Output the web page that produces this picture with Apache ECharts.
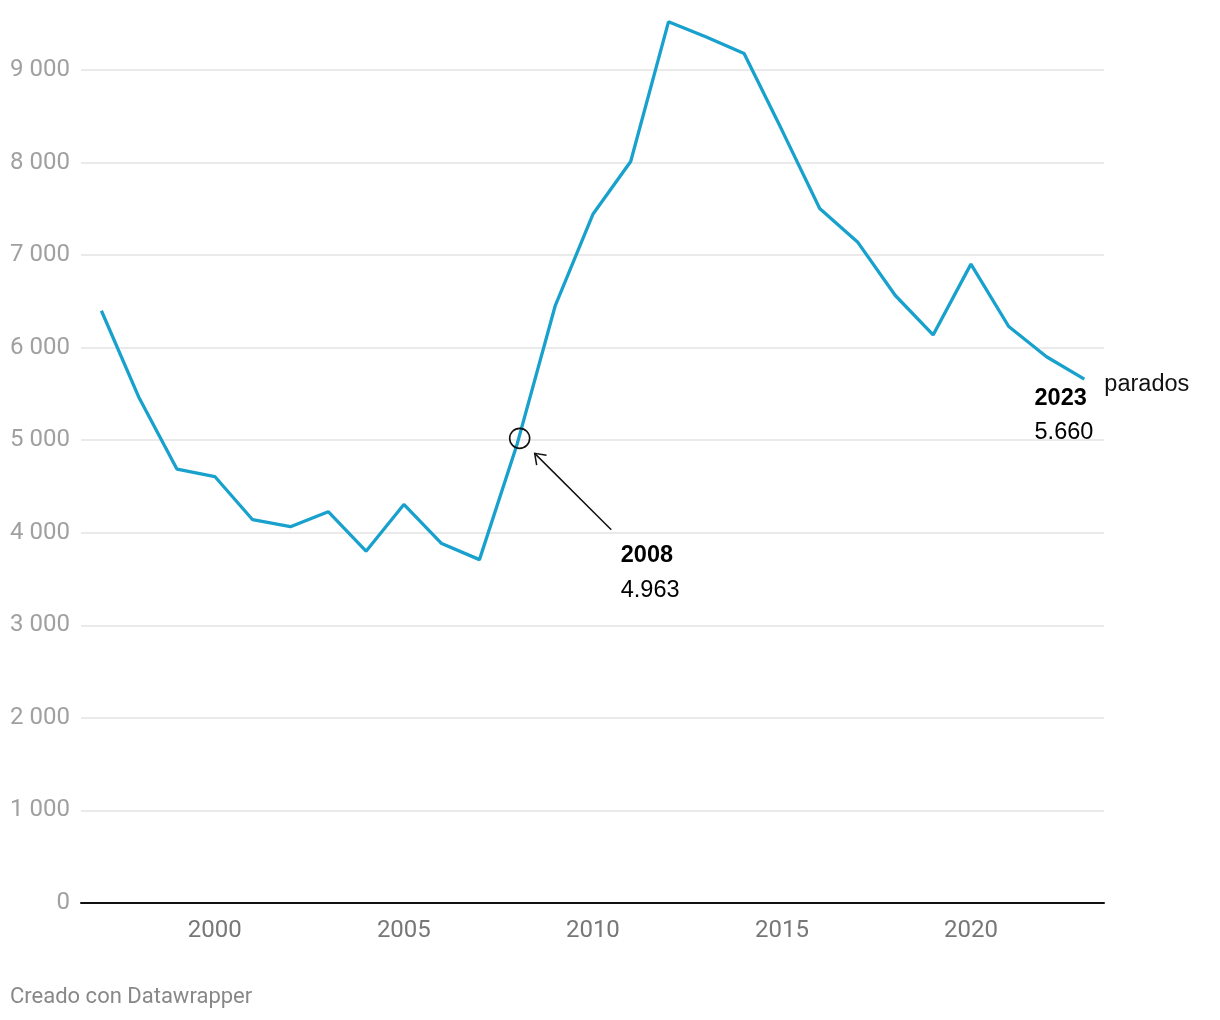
<!DOCTYPE html>
<html>
<head>
<meta charset="utf-8">
<script src="https://cdn.jsdelivr.net/npm/echarts@6/dist/echarts.min.js"></script>
<style>
html,body{margin:0;padding:0;background:#fff;}
#chart{width:1220px;height:1020px;}
</style>
</head>
<body>
<div id="chart"></div>
<script>
const years = [1997,1998,1999,2000,2001,2002,2003,2004,2005,2006,2007,2008,2009,2010,2011,2012,2013,2014,2015,2016,2017,2018,2019,2020,2021,2022,2023];
const parados = [6399,5456,4687,4608,4141,4066,4228,3801,4306,3884,3710,4963,6448,7441,8012,9521,9356,9178,8351,7503,7143,6564,6138,6903,6229,5902,5660];
const xTicks = [2000,2005,2010,2015,2020];
const seriesName = 'parados';
const highlightYear = 2008;
const highlightLabel = '4.963';
const lastYear = 2023;
const lastLabel = '5.660';
const footer = 'Creado con Datawrapper';

const chart = echarts.init(document.getElementById('chart'), null, {renderer:'canvas'});
const fmtThousands = v => String(v).replace(/\B(?=(\d{3})+(?!\d))/g, ' ');

chart.setOption({
  animation:false,
  backgroundColor:'#fff',
  grid:{left:81, right:116, top:14.5, bottom:117, containLabel:false},
  xAxis:{
    type:'value', min:1996.46, max:2023.52,
    axisLine:{show:true, onZero:false, lineStyle:{color:'#111', width:2}},
    axisTick:{show:false},
    splitLine:{show:false},
    axisLabel:{customValues:xTicks, formatter:v=>String(v), color:'#777', fontFamily:'Roboto', fontSize:24, margin:16}
  },
  yAxis:{
    type:'value', min:0, max:9600, interval:1000,
    axisLine:{show:false}, axisTick:{show:false},
    splitLine:{show:true, showMaxLine:false, showMinLine:false, lineStyle:{color:'#e3e3e3', width:1.5}},
    axisLabel:{showMaxLabel:false, formatter:fmtThousands, color:'#a0a0a0', fontFamily:'Roboto', fontSize:24, margin:11}
  },
  series:[{
    type:'line', name:seriesName,
    data: years.map((y,i)=>[y, parados[i]]),
    showSymbol:false, symbol:'none',
    lineStyle:{color:'#18a1cd', width:3.3},
    z:3
  }]
});

function drawAnnotations(){
  const iH = years.indexOf(highlightYear);
  const pH = chart.convertToPixel({gridIndex:0}, [highlightYear, parados[iH]]);
  const iL = years.indexOf(lastYear);
  const pL = chart.convertToPixel({gridIndex:0}, [lastYear, parados[iL]]);
  const tip = [pH[0]+17.4, pH[1]+9.7];
  const tail = [pH[0]+94, pH[1]+86];
  const ang = Math.atan2(tail[1]-tip[1], tail[0]-tip[0]);
  const armLen = 12, spread = 0.62;
  const a1 = [tip[0]+armLen*Math.cos(ang-spread), tip[1]+armLen*Math.sin(ang-spread)];
  const a2 = [tip[0]+armLen*Math.cos(ang+spread), tip[1]+armLen*Math.sin(ang+spread)];
  const font = 'Liberation Sans, Arial, sans-serif';
  chart.setOption({
    graphic:[
      {type:'circle', shape:{cx:pH[0]+2.4, cy:pH[1]-5.3, r:10}, style:{fill:'none', stroke:'#111', lineWidth:1.6}, z:10},
      {type:'line', shape:{x1:tail[0], y1:tail[1], x2:tip[0], y2:tip[1]}, style:{stroke:'#111', lineWidth:1.5}, z:10},
      {type:'polyline', shape:{points:[a1, tip, a2]}, style:{stroke:'#111', lineWidth:1.5, fill:'none'}, z:10},
      {type:'text', x:pH[0]+103.5, y:pH[1]+112, style:{text:String(highlightYear), font:'bold 23.5px '+font, fill:'#000', verticalAlign:'middle', align:'left'}, z:10},
      {type:'text', x:pH[0]+103.5, y:pH[1]+147, style:{text:highlightLabel, font:'23.5px '+font, fill:'#000', verticalAlign:'middle', align:'left'}, z:10},
      {type:'text', x:pL[0]-49.8, y:pL[1]+19, style:{text:String(lastYear), font:'bold 23.5px '+font, fill:'#000', verticalAlign:'middle', align:'left'}, z:10},
      {type:'text', x:pL[0]-49.8, y:pL[1]+53.5, style:{text:lastLabel, font:'23.5px '+font, fill:'#000', verticalAlign:'middle', align:'left'}, z:10},
      {type:'text', x:pL[0]+20, y:pL[1]+5.5, style:{text:seriesName, font:'23.5px '+font, fill:'#111', verticalAlign:'middle', align:'left'}, z:10},
      {type:'text', left:10, top:986, style:{text:footer, font:'22px Roboto', fill:'#888'}, z:10}
    ]
  });
}
drawAnnotations();
</script>
</body>
</html>
